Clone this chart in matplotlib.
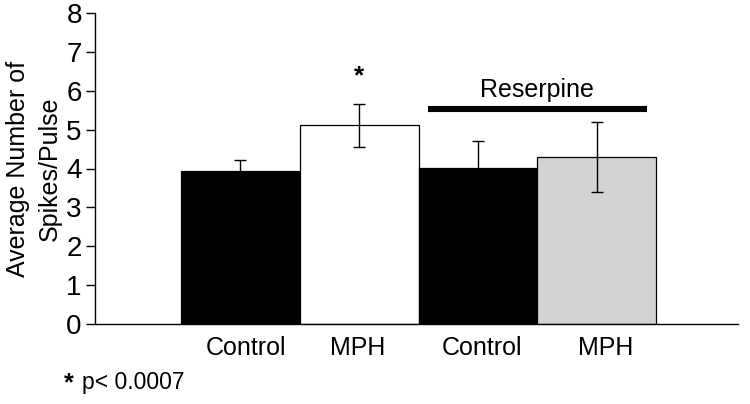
import matplotlib
matplotlib.use("Agg")
import matplotlib.pyplot as plt

categories = ["Control", "MPH", "Control", "MPH"]
means = [3.93, 5.11, 4.01, 4.29]
errors = [0.28, 0.55, 0.70, 0.90]
colors = ["black", "white", "black", "#d3d3d3"]
yticks = [0, 1, 2, 3, 4, 5, 6, 7, 8]
label_offsets = [0.05, -0.01, 0.034, 0.076]

plt.rcParams['font.family'] = ['Liberation Sans', 'DejaVu Sans']
FS = 18

fig = plt.figure(figsize=(7.5, 4.04), dpi=100)
ax = fig.add_axes([95/750, 1-324/404, (738-95)/750, (324-13)/404])

x = list(range(len(categories)))
ax.bar(x, means, width=1.0, color=colors, edgecolor="black", linewidth=0.9, zorder=2)
ax.errorbar(x, means, yerr=errors, fmt="none", ecolor="black", elinewidth=1.0,
            capsize=4.3, capthick=1.0, zorder=3)

ax.set_xlim(-1.224, 4.19)
ax.set_ylim(0, 8)
ax.set_yticks(yticks)
ax.set_yticklabels([str(t) for t in yticks], fontsize=20)
ax.set_xticks([])
for xi, lab, off in zip(x, categories, label_offsets):
    ax.text(xi + off, -0.30, lab, fontsize=FS, ha="center", va="top")
ax.tick_params(axis='y', direction='out', length=6.5, width=1.0, pad=3)
ax.spines['top'].set_visible(False)
ax.spines['right'].set_visible(False)
ax.spines['left'].set_linewidth(1.0)
ax.spines['bottom'].set_linewidth(1.0)
ax.set_ylabel("Average Number of\nSpikes/Pulse", fontsize=18, linespacing=1.45, labelpad=3)

# Reserpine bracket
ax.plot([1.58, 3.42], [5.53, 5.53], color="black", linewidth=4.4, solid_capstyle="butt",
        clip_on=False, zorder=4)
ax.text(2.5, 5.84, "Reserpine", fontsize=FS, ha="center", va="baseline")
ax.text(1.0, 6.38, "*", fontsize=19, fontweight="bold", ha="center", va="center")

fig.text(64/750, 1-383/404, "*", fontsize=18, fontweight="bold", ha="left", va="center")
fig.text(82/750, 1-383/404, "p< 0.0007", fontsize=16.5, ha="left", va="center")

fig.savefig("out.png", dpi=100)
